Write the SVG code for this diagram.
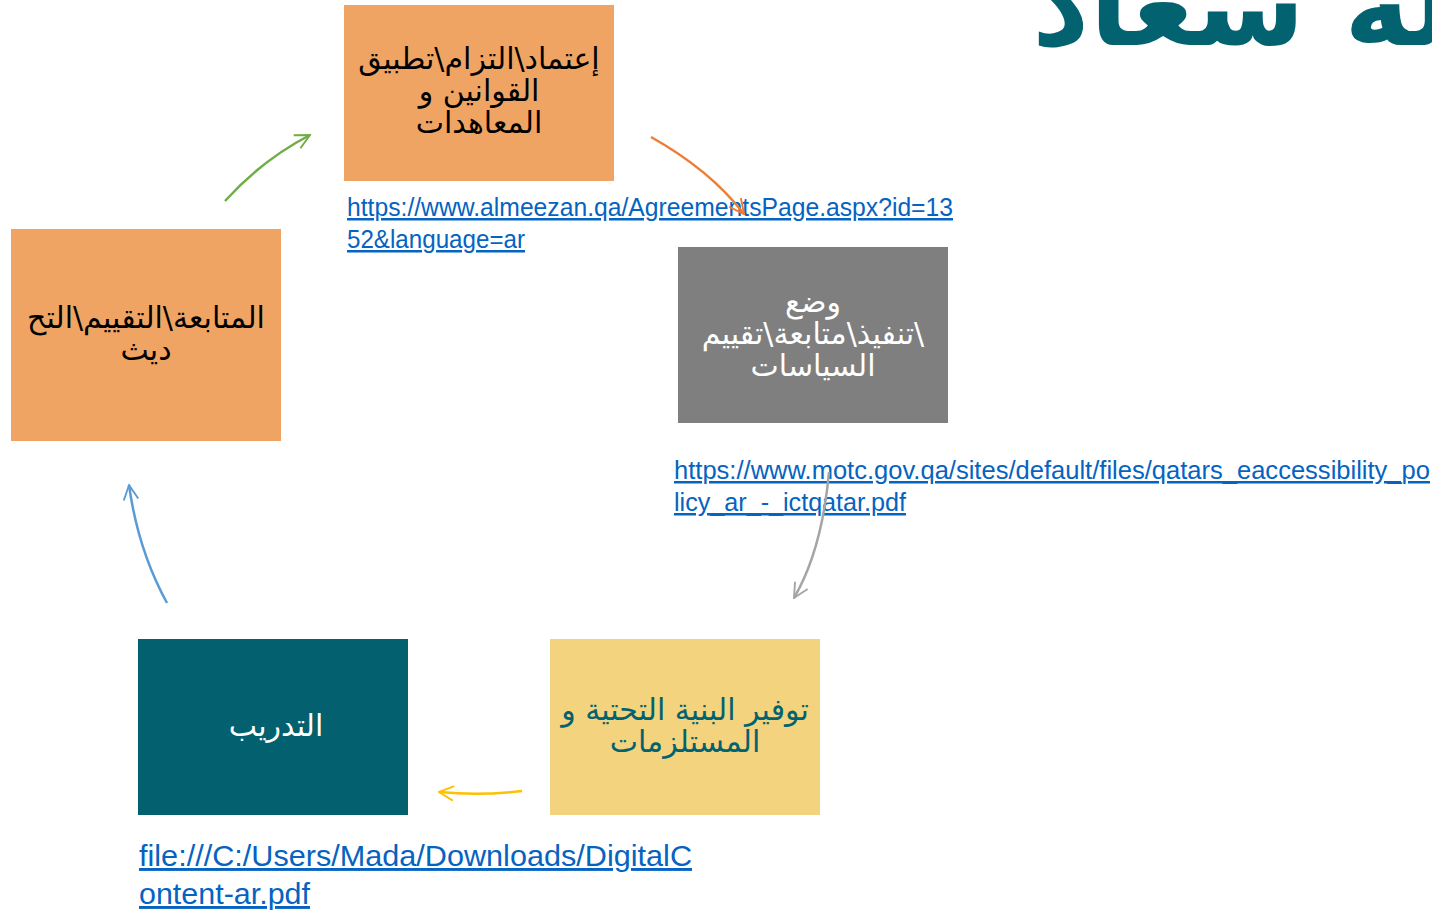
<svg xmlns="http://www.w3.org/2000/svg" width="1432" height="912" viewBox="0 0 1432 912">
<defs>
<style>
.ar{font-family:"DejaVu Sans","Noto Sans",sans-serif;font-size:30px;text-anchor:middle;direction:rtl;unicode-bidi:embed}
.url{font-family:"Liberation Sans Narrow","Liberation Sans",Arial,sans-serif;fill:#0563C1;text-decoration:underline}
.c{fill:none;stroke-width:2.5}
</style>
<marker id="mg" viewBox="0 0 12 12" refX="11" refY="6" markerWidth="7" markerHeight="7" orient="auto" markerUnits="strokeWidth"><path d="M1,1 L11,6 L1,11" fill="none" stroke="#70AD47" stroke-width="1.3"/></marker>
<marker id="mo" viewBox="0 0 12 12" refX="11" refY="6" markerWidth="7" markerHeight="7" orient="auto" markerUnits="strokeWidth"><path d="M1,1 L11,6 L1,11" fill="none" stroke="#ED7D31" stroke-width="1.3"/></marker>
<marker id="ma" viewBox="0 0 12 12" refX="11" refY="6" markerWidth="7" markerHeight="7" orient="auto" markerUnits="strokeWidth"><path d="M1,1 L11,6 L1,11" fill="none" stroke="#A5A5A5" stroke-width="1.3"/></marker>
<marker id="my" viewBox="0 0 12 12" refX="11" refY="6" markerWidth="7" markerHeight="7" orient="auto" markerUnits="strokeWidth"><path d="M1,1 L11,6 L1,11" fill="none" stroke="#FFC000" stroke-width="1.3"/></marker>
<marker id="mb" viewBox="0 0 12 12" refX="11" refY="6" markerWidth="7" markerHeight="7" orient="auto" markerUnits="strokeWidth"><path d="M1,1 L11,6 L1,11" fill="none" stroke="#5B9BD5" stroke-width="1.3"/></marker>
</defs>
<rect width="1432" height="912" fill="#FFFFFF"/>
<text x="1032" y="45" font-family="DejaVu Sans, sans-serif" font-weight="bold" font-size="112" fill="#03626F">رحلة سعاد</text>

<g id="n-laws">
<rect x="344" y="5" width="270" height="176" fill="#F0A463"/>
<text class="ar" fill="#000000"><tspan x="479" y="69">إعتماد\التزام\تطبيق</tspan><tspan x="479" y="101">القوانين و</tspan><tspan x="479" y="133">المعاهدات</tspan></text>
</g>
<g id="n-policy">
<rect x="678" y="247" width="270" height="176" fill="#7F7F7F"/>
<text class="ar" fill="#FFFFFF"><tspan x="813" y="312">وضع</tspan><tspan x="813" y="344">\تنفيذ\متابعة\تقييم</tspan><tspan x="813" y="376">السياسات</tspan></text>
</g>
<g id="n-infra">
<rect x="550" y="639" width="270" height="176" fill="#F3D37E"/>
<text class="ar" fill="#03626F"><tspan x="685" y="720">توفير البنية التحتية و</tspan><tspan x="685" y="752">المستلزمات</tspan></text>
</g>
<g id="n-training">
<rect x="138" y="639" width="270" height="176" fill="#03606F"/>
<text class="ar" fill="#FFFFFF" x="276" y="736">التدريب</text>
</g>
<g id="n-monitor">
<rect x="11" y="229" width="270" height="212" fill="#F0A463"/>
<text class="ar" fill="#000000"><tspan x="146" y="328">المتابعة\التقييم\التح</tspan><tspan x="146" y="360">ديث</tspan></text>
</g>

<g id="links">
<text class="url" font-size="25"><tspan x="347" y="216" textLength="606" lengthAdjust="spacingAndGlyphs">https://www.almeezan.qa/AgreementsPage.aspx?id=13</tspan><tspan x="347" y="248" textLength="178" lengthAdjust="spacingAndGlyphs">52&amp;language=ar</tspan></text>
<text class="url" font-size="25"><tspan x="674" y="479" textLength="756" lengthAdjust="spacingAndGlyphs">https://www.motc.gov.qa/sites/default/files/qatars_eaccessibility_po</tspan><tspan x="674" y="511" textLength="232" lengthAdjust="spacingAndGlyphs">licy_ar_-_ictqatar.pdf</tspan></text>
<text class="url" font-size="29"><tspan x="139" y="866" textLength="553" lengthAdjust="spacingAndGlyphs">file:///C:/Users/Mada/Downloads/DigitalC</tspan><tspan x="139" y="904" textLength="171" lengthAdjust="spacingAndGlyphs">ontent-ar.pdf</tspan></text>
</g>

<g id="connectors">
<path class="c" stroke="#70AD47" d="M225,201 Q262,160 310,135" marker-end="url(#mg)"/>
<path class="c" stroke="#ED7D31" d="M651,137 Q710,170 744,214" marker-end="url(#mo)"/>
<path class="c" stroke="#A5A5A5" d="M829,472 Q822,550 794,598" marker-end="url(#ma)"/>
<path class="c" stroke="#FFC000" d="M522,791 Q480,796 439,792" marker-end="url(#my)"/>
<path class="c" stroke="#5B9BD5" d="M167,603 Q138,550 129,485" marker-end="url(#mb)"/>
</g>
</svg>
